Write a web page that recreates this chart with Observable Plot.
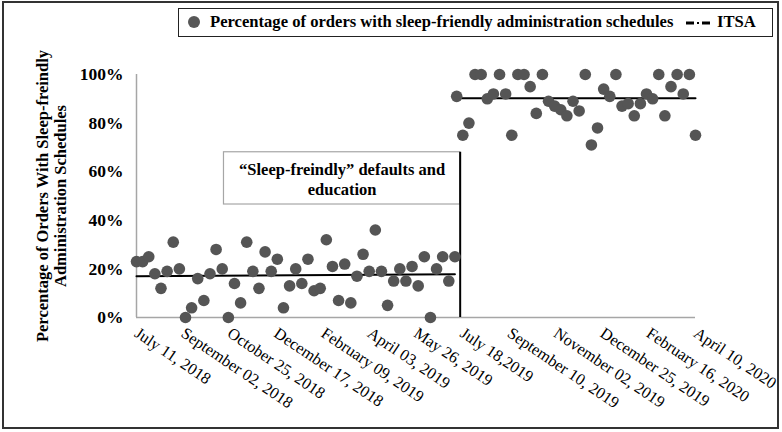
<!DOCTYPE html>
<html>
<head>
<meta charset="utf-8">
<script src="https://cdn.jsdelivr.net/npm/d3@7"></script>
<script src="https://cdn.jsdelivr.net/npm/@observablehq/plot@0.6"></script>
<style>
  body { margin: 0; background: #fff; }
  #wrap { position: relative; width: 782px; height: 432px; font-family: "Liberation Serif", "Times New Roman", serif; }
  #frame { position: absolute; left: 2px; top: 1px; width: 773px; height: 424px; border: 2px solid #333; pointer-events: none; }
  #legend { position: absolute; left: 178px; top: 8px; width: 593px; height: 27px; border: 1px solid #222; background: #fff; font-weight: bold; font-size: 16.6px; color: #000; }
  #legend .dotm { position: absolute; left: 9px; top: 7px; width: 12px; height: 12px; border-radius: 50%; background: #575757; }
  #legend .t1 { position: absolute; left: 31px; top: 3px; white-space: nowrap; }
  #legend svg { position: absolute; left: 507px; top: 11px; }
  #legend .t2 { position: absolute; left: 538px; top: 3px; white-space: nowrap; }
</style>
</head>
<body>
<div id="wrap">
  <div id="chart"></div>
  <div id="legend"></div>
  <div id="frame"></div>
</div>
<script>
// ---- Data ----
const preStart = "2018-07-11";   // weekly observations before intervention
const postStart = "2019-07-12";  // weekly observations after intervention
const preValues = [23, 23, 25, 18, 12, 19, 31, 20, 0, 4, 16, 7, 18, 28, 20, 0, 14, 6, 31, 19,
  12, 27, 19, 24, 4, 13, 20, 14, 24, 11, 12, 32, 21, 7, 22, 6, 17, 26, 19, 36,
  19, 5, 15, 20, 15, 21, 13, 25, 0, 20, 25, 15, 25];
const postValues = [91, 75, 80, 100, 100, 90, 92, 100, 92, 75, 100, 100, 95, 84, 100, 89, 87, 85.5, 83, 89,
  85, 100, 71, 78, 94, 91, 100, 87, 88, 83, 88, 92, 90, 100, 83, 95, 100, 92, 100, 75];
const itsaPreDates = ["2018-07-11", "2019-07-10"];
const itsaPreValues = [17.0, 17.8];
const itsaPostDates = ["2019-07-12", "2020-04-10"];
const itsaPostValues = [90.2, 90.2];
const interventionDate = "2019-07-16";
const tickDates = ["2018-07-11", "2018-09-02", "2018-10-25", "2018-12-17", "2019-02-09", "2019-04-03",
  "2019-05-26", "2019-07-18", "2019-09-10", "2019-11-02", "2019-12-25", "2020-02-16", "2020-04-10"];
const tickLabels = ["July 11, 2018", "September 02, 2018", "October 25, 2018", "December 17, 2018",
  "February 09, 2019", "April 03, 2019", "May 26, 2019", "July 18,2019", "September 10, 2019",
  "November 02, 2019", "December 25, 2019", "February 16, 2020", "April 10, 2020"];
const yTicks = [0, 20, 40, 60, 80, 100];
const yTitle = "Percentage of Orders With Sleep-freindly\nAdministration Schedules";
const annotationText = "\u201CSleep-freindly\u201D defaults and\neducation";
const annotationBox = {x1: "2018-10-19", x2: interventionDate, y1: 46.5, y2: 68};
const seriesLabel = "Percentage of orders with sleep-friendly administration schedules";
const itsaLabel = "ITSA";

// ---- Build tables ----
const D = s => new Date(s);
const points = [
  ...preValues.map((v, i) => ({date: d3.utcDay.offset(D(preStart), 7 * i), value: v})),
  ...postValues.map((v, i) => ({date: d3.utcDay.offset(D(postStart), 7 * i), value: v}))
];
const itsaPre = itsaPreDates.map((d, i) => ({date: D(d), value: itsaPreValues[i]}));
const itsaPost = itsaPostDates.map((d, i) => ({date: D(d), value: itsaPostValues[i]}));
const labelMap = new Map(tickDates.map((d, i) => [+D(d), tickLabels[i]]));
const box = [{x1: D(annotationBox.x1), x2: D(annotationBox.x2), y1: annotationBox.y1, y2: annotationBox.y2,
  xm: new Date((+D(annotationBox.x1) + +D(annotationBox.x2)) / 2), ym: (annotationBox.y1 + annotationBox.y2) / 2,
  text: annotationText}];
const xDomain = [D(tickDates[0]), D(tickDates[tickDates.length - 1])];

const chart = Plot.plot({
  width: 782,
  height: 432,
  marginLeft: 136,
  marginRight: 87,
  marginTop: 74,
  marginBottom: 115,
  x: {type: "utc", domain: xDomain},
  y: {domain: [0, 100]},
  style: {fontFamily: "\"Liberation Serif\", \"Times New Roman\", serif", fontSize: "16px", color: "#000", background: "transparent", overflow: "visible"},
  marks: [
    Plot.ruleY([0], {stroke: "#a6a6a6", strokeWidth: 1.5}),
    Plot.ruleX([xDomain[0]], {y1: 0, y2: 100, stroke: "#a6a6a6", strokeWidth: 1.5}),
    Plot.axisY({ticks: yTicks, tickFormat: d => d + "%", tickSize: 0, tickPadding: 13, fontWeight: "bold", fontSize: 17.5, label: null}),
    Plot.axisX({ticks: tickDates.map(D), tickFormat: d => labelMap.get(+d), tickRotate: 34, tickSize: 0, tickPadding: 14, fontSize: 16.3, label: null}),
    Plot.rect(box, {x1: "x1", x2: "x2", y1: "y1", y2: "y2", fill: "white", stroke: "#a6a6a6", strokeWidth: 1.2}),
    Plot.text(box, {x: "xm", y: "ym", text: "text", fontWeight: "bold", fontSize: 16.5, lineHeight: 1.22, fill: "#000"}),
    Plot.ruleX([D(interventionDate)], {y1: 0, y2: annotationBox.y2, stroke: "#000", strokeWidth: 2}),
    Plot.line(itsaPre, {x: "date", y: "value", stroke: "#000", strokeWidth: 2}),
    Plot.line(itsaPost, {x: "date", y: "value", stroke: "#000", strokeWidth: 2}),
    Plot.dot(points, {x: "date", y: "value", r: 5.8, fill: "#555555"}),
    Plot.text([yTitle], {frameAnchor: "left", textAnchor: "middle", rotate: -90, dx: -85, text: d => d, fontWeight: "bold", fontSize: 16.5, lineHeight: 1.1, fill: "#000"})
  ]
});
document.getElementById("chart").appendChild(chart);

// ---- Legend ----
const lg = document.getElementById("legend");
lg.innerHTML = `<div class="dotm"></div><span class="t1"></span>
<svg width="24" height="6"><line x1="0" y1="3" x2="8" y2="3" stroke="#000" stroke-width="3"/><line x1="11" y1="3" x2="13" y2="3" stroke="#000" stroke-width="2"/><line x1="16" y1="3" x2="24" y2="3" stroke="#000" stroke-width="3"/></svg>
<span class="t2"></span>`;
lg.querySelector(".t1").textContent = seriesLabel;
lg.querySelector(".t2").textContent = itsaLabel;
</script>
</body>
</html>
